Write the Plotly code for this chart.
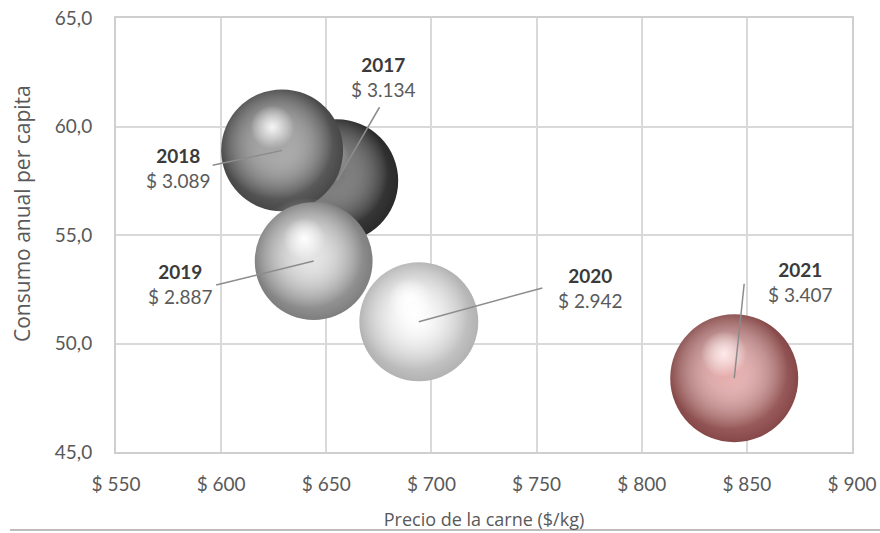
import plotly.graph_objects as go

# ---- data ----
years = ["2017", "2018", "2019", "2020", "2021"]
price = [655, 629, 644, 694, 844]            # $/kg
consumo = [57.5, 58.9, 53.8, 51.0, 48.4]      # kg per capita
gasto = [3134, 3089, 2887, 2942, 3407]        # bubble size / label value
gasto_txt = ["$ 3.134", "$ 3.089", "$ 2.887", "$ 2.942", "$ 3.407"]
x_ticks = [550, 600, 650, 700, 750, 800, 850, 900]
x_ticktext = ["$ 550", "$ 600", "$ 650", "$ 700", "$ 750", "$ 800", "$ 850", "$ 900"]
y_ticks = [45, 50, 55, 60, 65]

# ---- styles ----
# plotly radial gradient: gradient.color at centre, marker.color at rim
mid_col = ["#5e5e5e", "#949494", "#d2d2d2", "#f6f6f6", "#d89a9a"]
edge_col = ["#2a2a2a", "#484848", "#7e7e7e", "#b2b2b2", "#864848"]
body_col = ["rgba(105,105,105,0.9)", "rgba(158,158,158,0.92)", "rgba(228,228,228,0.97)",
            "rgba(255,255,255,1)", "rgba(232,168,168,0.95)"]
spot_col = ["rgba(130,130,130,0.6)", "rgba(245,245,245,1)", "rgba(255,255,255,1)",
            "rgba(255,255,255,1)", "rgba(255,232,232,1)"]
clear = "rgba(255,255,255,0)"
label_off = [(46, -104), (-104, 18), (-134, 23), (171, -34), (66, -96)]   # px from point
tail_off = [(43, -74), (-70, 15), (-98, 24), (124, -34), (10, -95)]       # px from point

W, H = 880, 533
M = dict(l=116, r=28, t=18, b=81)
xr = [550, 900]
yr = [45, 65]
pw = W - M["l"] - M["r"]
ph = H - M["t"] - M["b"]
px_x = pw / (xr[1] - xr[0])
px_y = ph / (yr[1] - yr[0])

max_diam = 128
gmax = max(gasto)

fig = go.Figure()
for i, yv in enumerate(years):
    d = max_diam * (gasto[i] / gmax) ** 0.5
    # base sphere
    fig.add_trace(go.Scatter(
        x=[price[i]], y=[consumo[i]], mode="markers", hoverinfo="skip", showlegend=False,
        marker=dict(size=d, color=edge_col[i], line=dict(width=0),
                    gradient=dict(type="radial", color=mid_col[i]))))
    # body light, shifted up-left
    fig.add_trace(go.Scatter(
        x=[price[i] - 0.05 * d / px_x], y=[consumo[i] + 0.07 * d / px_y],
        mode="markers", hoverinfo="skip", showlegend=False,
        marker=dict(size=d * 0.94, color=clear, line=dict(width=0),
                    gradient=dict(type="radial", color=body_col[i]))))
    # specular spot
    fig.add_trace(go.Scatter(
        x=[price[i] - 0.08 * d / px_x], y=[consumo[i] + 0.19 * d / px_y],
        mode="markers", hoverinfo="skip", showlegend=False,
        marker=dict(size=d * 0.36, color=clear, line=dict(width=0),
                    gradient=dict(type="radial", color=spot_col[i]))))

for i, yv in enumerate(years):
    # leader line
    fig.add_annotation(
        x=price[i], y=consumo[i], xref="x", yref="y", text="",
        showarrow=True, arrowhead=0, arrowwidth=1.5, arrowcolor="#8c8c8c",
        ax=tail_off[i][0], ay=tail_off[i][1], standoff=0, startstandoff=0,
        font=dict(size=1), borderpad=0)
    # label
    fig.add_annotation(
        x=price[i], y=consumo[i], xref="x", yref="y",
        xshift=label_off[i][0], yshift=-label_off[i][1],
        text=f"<b><span style='color:#3a3a3a'>{yv}</span></b><br>{gasto_txt[i]}",
        showarrow=False,
        font=dict(family="Lato, sans-serif", size=19, color="#5a5a5a"),
        align="center")

# y-axis title (placed like the original, slightly above centre)
fig.add_annotation(
    xref="paper", yref="paper", x=(22 - M["l"]) / pw, y=(H - M["b"] - 213) / ph,
    text="Consumo anual per capita", textangle=-90, showarrow=False,
    xanchor="center", yanchor="middle",
    font=dict(family="Open Sans, sans-serif", size=21, color="#595959"))

# bottom frame line
fig.add_shape(type="line", xref="paper", yref="paper",
              x0=-0.144, x1=1.04, y0=-0.18, y1=-0.18,
              line=dict(color="#bdbdbd", width=2))

fig.update_layout(
    width=W, height=H, margin=M,
    paper_bgcolor="white", plot_bgcolor="white",
    separators=",.",
    font=dict(family="Lato, sans-serif", color="#595959"),
    xaxis=dict(range=xr, tickvals=x_ticks, ticktext=x_ticktext, showgrid=True,
               gridcolor="#d9d9d9", gridwidth=2, zeroline=False, automargin=False,
               showline=True, linecolor="#cfcfcf", linewidth=2, mirror=True,
               tickfont=dict(size=19, color="#595959"), ticklabelstandoff=14,
               title=dict(text="Precio de la carne ($/kg)",
                          font=dict(family="Open Sans, sans-serif", size=18, color="#595959"),
                          standoff=20)),
    yaxis=dict(range=yr, tickvals=y_ticks, tickformat=".1f", showgrid=True,
               gridcolor="#d9d9d9", gridwidth=2, zeroline=False, automargin=False,
               showline=True, linecolor="#cfcfcf", linewidth=2, mirror=True,
               tickfont=dict(size=19, color="#595959"), ticklabelstandoff=18),
)

fig.write_html("out.html")
